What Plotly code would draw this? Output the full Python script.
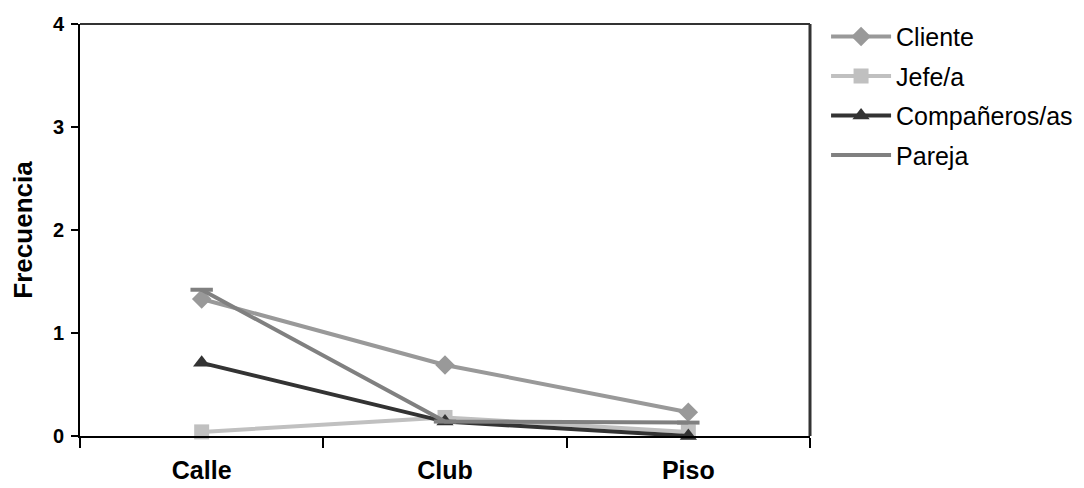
import plotly.graph_objects as go

categories = ["Calle", "Club", "Piso"]
cliente = [1.33, 0.69, 0.23]
jefe = [0.04, 0.18, 0.04]
companeros = [0.71, 0.14, 0.0]
pareja = [1.42, 0.14, 0.13]

series = [
    ("Cliente", cliente, "#999999", "diamond"),
    ("Jefe/a", jefe, "#c0c0c0", "square"),
    ("Compañeros/as", companeros, "#333333", "triangle-up"),
    ("Pareja", pareja, "#808080", "line-ew"),
]

FONT = "Liberation Sans, Arial, sans-serif"

fig = go.Figure()
for i, (name, vals, color, sym) in enumerate(series):
    marker = dict(symbol=sym, size=15, color=color)
    if sym == "line-ew":
        marker = dict(symbol=sym, size=16, color=color, line=dict(width=4, color=color))
    fig.add_trace(go.Scatter(
        x=categories, y=vals, name=name, mode="lines+markers",
        line=dict(color=color, width=4), marker=marker, cliponaxis=False,
        legendgroup=f"g{i}",
    ))

fig.update_layout(
    width=1076, height=480,
    margin=dict(l=72, r=274, t=16, b=52, autoexpand=False),
    plot_bgcolor="white", paper_bgcolor="white",
    font=dict(family=FONT, color="black"),
    showlegend=True,
    legend=dict(x=1.022, y=1.025, xanchor="left", yanchor="top",
                font=dict(size=25), tracegroupgap=4, itemwidth=60),
    xaxis=dict(
        type="category", range=[-0.5, 2.5], showgrid=False, automargin=False,
        showline=True, linecolor="black", linewidth=2,
        ticks="outside", ticklen=10, tickwidth=2, tickcolor="black",
        tickson="boundaries", ticklabelstandoff=11,
        tickfont=dict(size=25, family=FONT, weight="bold"),
    ),
    yaxis=dict(
        range=[0, 4], tickvals=[0, 1, 2, 3, 4], showgrid=False, zeroline=False,
        automargin=False,
        showline=True, linecolor="black", linewidth=2,
        ticks="outside", ticklen=7, tickwidth=2, tickcolor="black",
        ticklabelstandoff=3,
        tickfont=dict(size=20, family=FONT, weight="bold"),
        title=dict(text="Frecuencia", standoff=18,
                   font=dict(size=26, family=FONT, weight="bold")),
    ),
    shapes=[
        dict(type="line", xref="paper", yref="paper", x0=0, x1=1, y0=1, y1=1,
             line=dict(color="#333333", width=2)),
        dict(type="line", xref="paper", yref="paper", x0=1, x1=1, y0=0, y1=1,
             line=dict(color="#333333", width=3)),
    ],
)

fig.write_html("out.html")
